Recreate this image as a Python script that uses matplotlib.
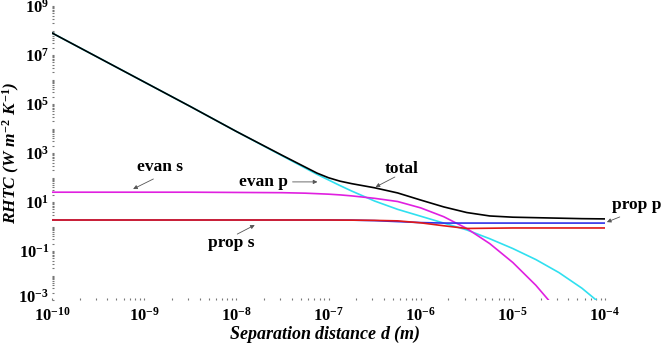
import numpy as np
import matplotlib
matplotlib.use('Agg')
import matplotlib.pyplot as plt
import matplotlib.transforms as mtransforms
from matplotlib.ticker import FixedLocator, NullFormatter

# data (log10 values)
log_d = [-10, -9.5, -9, -8.5, -8, -7.5, -7.25, -7.125, -7, -6.875, -6.75, -6.5, -6.25,
         -6, -5.75, -5.5, -5.25, -5, -4.75, -4.5, -4.25, -4]
log_total = [7.9, 6.9, 5.9, 4.9, 3.88, 2.9, 2.42, 2.18, 1.99, 1.85, 1.75, 1.58, 1.37,
             1.08, 0.8, 0.57, 0.43, 0.38, 0.36, 0.34, 0.32, 0.31]
log_evan_p = [7.9, 6.9, 5.9, 4.9, 3.88, 2.88, 2.38, 2.13, 1.9, 1.67, 1.45, 1.04, 0.7,
              0.42, 0.14, -0.14, -0.5, -0.9, -1.35, -1.88, -2.52, -3.3]
log_evan_s = [1.4, 1.4, 1.4, 1.4, 1.39, 1.38, 1.36, 1.34, 1.32, 1.29, 1.25, 1.15, 1.02,
              0.76, 0.4, -0.08, -0.7, -1.47, -2.4, -3.5, -4.6, -5.8]
log_prop_s = [0.265, 0.265, 0.265, 0.265, 0.265, 0.265, 0.265, 0.265, 0.265, 0.262, 0.26, 0.25, 0.23,
              0.15, 0.03, -0.08, -0.07, -0.06, -0.06, -0.06, -0.06, -0.06]
log_prop_p = [0.265, 0.265, 0.265, 0.265, 0.265, 0.265, 0.265, 0.265, 0.265, 0.262, 0.26, 0.24, 0.2,
              0.16, 0.14, 0.14, 0.14, 0.14, 0.14, 0.14, 0.14, 0.14]
x_ticks = [1e-10, 1e-9, 1e-8, 1e-7, 1e-6, 1e-5, 1e-4]
y_ticks = [1e-3, 1e-1, 1e1, 1e3, 1e5, 1e7, 1e9]

d = 10.0 ** np.array(log_d)

plt.rcParams['font.family'] = 'Liberation Serif'
plt.rcParams['font.weight'] = 'bold'
plt.rcParams['mathtext.fontset'] = 'custom'
plt.rcParams['mathtext.rm'] = 'Liberation Serif:bold'
plt.rcParams['mathtext.it'] = 'Liberation Serif:bold:italic'
plt.rcParams['mathtext.bf'] = 'Liberation Serif:bold'

fig = plt.figure(figsize=(6.69, 3.5), dpi=100)
ax = fig.add_axes([52/669, 1-300/350, 553/669, 294/350])

ax.plot(d, 10.0 ** np.array(log_evan_p), color='#30e0f0', lw=1.2)
ax.plot(d, 10.0 ** np.array(log_evan_s), color='#e020e0', lw=1.2)
ax.plot(d, 10.0 ** np.array(log_prop_p), color='#3030e8', lw=1.2)
ax.plot(d, 10.0 ** np.array(log_prop_s), color='#e01818', lw=1.2)
ax.plot(d, 10.0 ** np.array(log_total), color='black', lw=1.2)

ax.set_xscale('log')
ax.set_yscale('log')
ax.set_xlim(1e-10, 1e-4)
ax.set_ylim(1e-3, 1e9)

# ticks: majors every decade on x, odd decades on y, minors as dots
ax.xaxis.set_major_locator(FixedLocator(x_ticks))
ax.yaxis.set_major_locator(FixedLocator(y_ticks))
minor_x = [m * 10.0**k for k in range(-10, -4) for m in range(2, 10)]
minor_y = [m * 10.0**k for k in range(-3, 9) for m in range(1, 10)]
ax.xaxis.set_minor_locator(FixedLocator(minor_x))
ax.yaxis.set_minor_locator(FixedLocator(minor_y))
ax.xaxis.set_minor_formatter(NullFormatter())
ax.yaxis.set_minor_formatter(NullFormatter())
ax.tick_params(which='both', direction='in', length=1.5, width=0.8, color='#777777')
ax.tick_params(which='major', labelsize=12)
ax.tick_params(axis='x', which='major', pad=5)
ax.tick_params(axis='y', which='major', pad=2)

# lift the lowest y label a bit so it clears 10^-10
fig.canvas.draw()
lift = mtransforms.ScaledTranslation(0, 4/100, fig.dpi_scale_trans)
ylab0 = ax.get_yticklabels()[0]
ylab0.set_transform(ylab0.get_transform() + lift)

for s in ax.spines.values():
    s.set_visible(False)

fig.text(325/669, 1-334/350, 'Separation distance $d$ (m)', ha='center', va='center',
         fontsize=13, fontweight='bold', fontstyle='italic')
fig.text(11/669, 1-153/350, r'RHTC ($W\ m^{-2}\ K^{-1}$)', ha='center', va='center',
         rotation=90, fontsize=12.5, fontweight='bold', fontstyle='italic')

# curve labels with small arrows
arrow = dict(arrowstyle='-|>', lw=0.6, color='#555555', mutation_scale=6, shrinkA=0, shrinkB=0)
labels = [
    ('evan s', (-8.83, 2.43), (-8.90, 1.94), (-9.12, 1.53)),
    ('evan p', (-7.70, 1.82), (-7.39, 1.82), (-7.12, 1.82)),
    ('total', (-6.21, 2.35), (-6.28, 2.02), (-6.49, 1.61)),
    ('prop s', (-8.05, -0.67), (-7.99, -0.31), (-7.80, 0.06)),
    ('prop p', (-3.66, 0.88), (-3.84, 0.39), (-3.98, 0.18)),
]
for txt, pos, tail, head in labels:
    ax.text(10**pos[0], 10**pos[1], txt, ha='center', va='center', fontsize=12.5,
            fontweight='bold', clip_on=False)
    ax.annotate('', xy=(10**head[0], 10**head[1]), xytext=(10**tail[0], 10**tail[1]),
                arrowprops=arrow, annotation_clip=False)

plt.savefig('out.png', dpi=100)
